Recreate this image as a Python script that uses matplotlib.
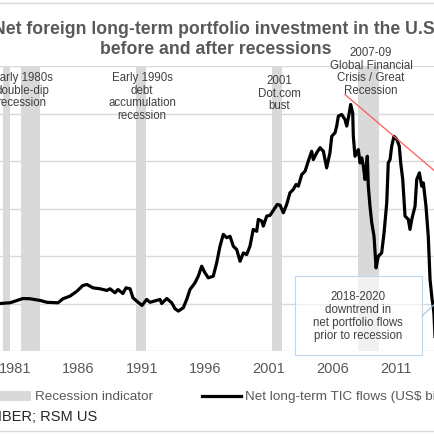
import matplotlib
matplotlib.use("Agg")
import matplotlib.pyplot as plt
from matplotlib.patches import Rectangle
from matplotlib.lines import Line2D

plt.rcParams["font.family"] = ["Liberation Sans", "DejaVu Sans"]

# Net long-term TIC flows (US$ billions)
years = [1979.82, 1980.61, 1981.63, 1982.18, 1982.97, 1983.52, 1984.39, 1984.78,
         1985.33, 1985.88, 1986.35, 1986.67, 1987.14, 1987.69, 1988.24, 1988.48,
         1988.87, 1989.11, 1989.50, 1989.74, 1990.06, 1990.29, 1990.69, 1991.00,
         1991.37, 1991.63, 1992.42, 1992.55, 1992.95, 1993.34, 1993.60, 1993.86,
         1994.25, 1994.52, 1994.78, 1995.17, 1995.43, 1995.70, 1995.96, 1996.22,
         1996.61, 1996.88, 1997.14, 1997.40, 1997.67, 1997.93, 1998.19, 1998.46,
         1998.72, 1998.98, 1999.24, 1999.50, 1999.76, 2000.03, 2000.16, 2000.43,
         2000.55, 2000.82, 2001.08, 2001.47, 2001.65, 2001.87, 2002.13, 2002.39,
         2002.65, 2002.91, 2003.13, 2003.31, 2003.58, 2003.84, 2004.09, 2004.36,
         2004.49, 2004.76, 2005.02, 2005.28, 2005.54, 2005.80, 2005.94, 2006.20,
         2006.33, 2006.46, 2006.72, 2006.98, 2007.12, 2007.30, 2007.43, 2007.59,
         2007.64, 2007.77, 2008.03, 2008.17, 2008.30, 2008.43, 2008.56, 2008.74,
         2008.82, 2008.95, 2009.09, 2009.27, 2009.43, 2009.61, 2009.87, 2010.06,
         2010.27, 2010.39, 2010.53, 2010.66, 2010.84, 2011.06, 2011.26, 2011.37,
         2011.53, 2011.71, 2011.97, 2012.10, 2012.24, 2012.50, 2012.63, 2012.84,
         2013.02, 2013.15, 2013.36, 2013.54, 2013.68, 2013.84, 2013.91, 2013.99,
         2014.07, 2014.23]
tic_flows = [0, 3, 21, 20, 13, 5, 3, 20,
             31, 52, 76, 80, 66, 62, 55, 62,
             45, 59, 42, 66, 62, 24, 5, -8,
             17, 5, 17, 0, 21, 3, -22, -32,
             -18, 17, 59, 87, 115, 157, 129, 108,
             115, 171, 241, 291, 277, 283, 241, 227,
             178, 213, 206, 241, 312, 304, 354, 347,
             326, 368, 371, 403, 417, 414, 382, 417,
             466, 480, 501, 494, 543, 557, 599, 641,
             606, 635, 656, 641, 571, 635, 704, 719,
             747, 789, 796, 775, 747, 796, 838, 803,
             704, 620, 648, 592, 613, 578, 522, 620,
             494, 410, 340, 283, 150, 199, 213, 298,
             424, 592, 606, 662, 704, 691, 662, 592,
             522, 368, 354, 312, 354, 410, 522, 550,
             494, 508, 410, 283, 101, 17, -4, -46,
             -139, -236]

# NBER recessions (start, end)
rec_start = [1980.02, 1981.47, 1990.53, 2001.25, 2008.0]
rec_end = [1980.6, 1982.97, 1991.3, 2002.05, 2009.65]

tick_years = [1981, 1986, 1991, 1996, 2001, 2006, 2011]

# trend line through the 2007 and 2011 peaks
trend_x = [2006.98, 2010.84, 2016.0]
trend_y = [880, 704, 469]

grey_text = "#595959"
note_text = "#404040"
grid_col = "#d9d9d9"

W = H = 435.0


def fx(p):
    return p / W


def fy(p):
    return 1 - p / H


fig = plt.figure(figsize=(4.35, 4.35), dpi=100)
ax = fig.add_axes([0, fy(352), 1, (352 - 67) / H])

for s, e in zip(rec_start, rec_end):
    ax.axvspan(s, e, color=grid_col, lw=0, zorder=1)

ax.plot(years, tic_flows, color="black", lw=2.3, zorder=3, solid_joinstyle="round")
ax.plot(trend_x, trend_y, color="#ff5a5a", lw=0.9, zorder=4)

ax.set_xlim(1979.82, 2014.07)
ax.set_ylim(-200, 1000)
ax.set_yticks(range(-200, 1001, 200))
ax.yaxis.grid(True, color=grid_col, lw=1)
ax.set_axisbelow(True)
ax.set_xticks(tick_years)
ax.set_xticklabels([str(y) for y in tick_years])
ax.tick_params(axis="x", length=0, labelsize=10.5, labelcolor=grey_text, pad=7)
ax.tick_params(axis="y", length=0, labelleft=False)
for sp in ax.spines.values():
    sp.set_visible(False)

# title (wider than the crop, so it runs off both edges)
fig.text(0.497, fy(30), "Net foreign long-term portfolio investment in the U.S.",
         ha="center", va="center", fontsize=12.7, fontweight="bold", color=grey_text)
fig.text(0.497, fy(49), "before and after recessions",
         ha="center", va="center", fontsize=12.7, fontweight="bold", color=grey_text)

# recession notes (x centre, y of first line centre)
notes = [
    (22, 79, "Early 1980s\ndouble-dip\nrecession"),
    (142, 79, "Early 1990s\ndebt\naccumulation\nrecession"),
    (279, 82, "2001\nDot.com\nbust"),
    (371, 54, "2007-09\nGlobal Financial\nCrisis / Great\nRecession"),
]
for x, y, t in notes:
    fig.text(fx(x), fy(y - 7), t, ha="center", va="top", fontsize=8.3,
             color=note_text, linespacing=1.07, zorder=5)

# callout box
box = Rectangle((fx(295), fy(356)), 127 / W, 79 / H, transform=fig.transFigure,
                facecolor="white", alpha=0.65, edgecolor="none", zorder=6)
fig.add_artist(box)
box_edge = Rectangle((fx(295), fy(356)), 127 / W, 79 / H, transform=fig.transFigure,
                     facecolor="none", edgecolor="#bdd7ee", lw=0.8, zorder=7)
fig.add_artist(box_edge)
fig.add_artist(Line2D([fx(422), fx(438)], [fy(317), fy(302)], transform=fig.transFigure,
                      color="#9dc3e6", lw=0.8, zorder=7))
fig.text(fx(358), fy(316.5), "2018-2020\ndowntrend in\nnet portfolio flows\nprior to recession",
         ha="center", va="center", fontsize=8.3, color=note_text, linespacing=1.1, zorder=8)

# legend
fig.add_artist(Rectangle((fx(-20), fy(402)), 51 / W, 10 / H, transform=fig.transFigure,
                         facecolor=grid_col, edgecolor="none"))
fig.text(fx(35), fy(397), "Recession indicator", ha="left", va="center",
         fontsize=9.7, color=grey_text)
fig.add_artist(Line2D([fx(202), fx(241)], [fy(397), fy(397)], transform=fig.transFigure,
                      color="black", lw=2.3))
fig.text(fx(245), fy(397), "Net long-term TIC flows (US\\$ billions, 12-month sum)",
         ha="left", va="center", fontsize=9.7, color=grey_text)

fig.text(fx(97), fy(417), "Source: Haver Analytics; NBER; RSM US", ha="right", va="center",
         fontsize=10.5, color="#262626")

# chart border lines
fig.add_artist(Line2D([0, 1], [fy(4), fy(4)], transform=fig.transFigure, color=grid_col, lw=1))
fig.add_artist(Line2D([0, 1], [fy(432), fy(432)], transform=fig.transFigure, color=grid_col, lw=1))

fig.savefig("out.png", dpi=100)
